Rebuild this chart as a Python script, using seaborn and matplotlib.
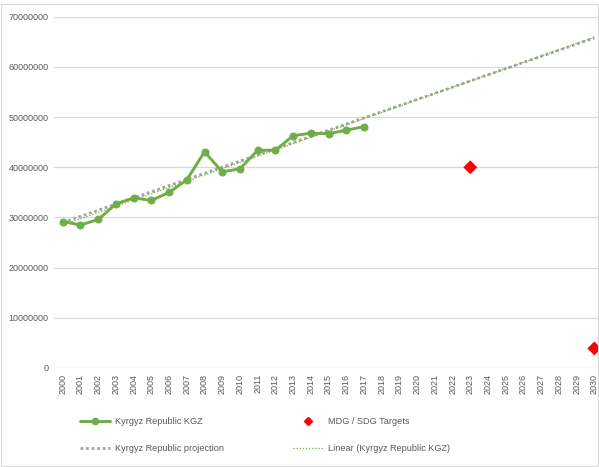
import matplotlib
matplotlib.use("Agg")
import matplotlib.pyplot as plt
import numpy as np
import pandas as pd
import seaborn as sns
from matplotlib.lines import Line2D
from matplotlib.patches import Rectangle

# ---- data ----
years = list(range(2000, 2018))
kgz_values = [29.2e6, 28.5e6, 29.6e6, 32.7e6, 33.9e6, 33.4e6, 35.0e6, 37.5e6, 43.1e6,
              39.1e6, 39.7e6, 43.4e6, 43.4e6, 46.3e6, 46.8e6, 46.7e6, 47.4e6, 48.1e6]
target_years = [2023, 2030]
target_values = [40.0e6, 3.9e6]
projection_years = [2000, 2030]
projection_values = [29.0e6, 65.8e6]
tick_years = list(range(2000, 2031))

GREEN = "#70AD47"
GREY_TXT = "#595959"

sns.set_theme(style="white")
plt.rcParams["font.family"] = ["Liberation Sans", "DejaVu Sans"]

kgz = pd.DataFrame({"year": years, "value": kgz_values})
targets = pd.DataFrame({"year": target_years, "value": target_values})
proj = pd.DataFrame({"year": projection_years, "value": projection_values})

fig = plt.figure(figsize=(5.99, 4.67), dpi=100)
ax = fig.add_axes([0.090, 0.212, 0.917, 0.752])
ax.set_xlim(2000, 2030)

for v in range(10_000_000, 70_000_001, 10_000_000):
    ax.axhline(v, color="#D9D9D9", lw=0.9, zorder=0)
ax.axhline(0, color="#D9D9D9", lw=0.9, zorder=0)

sns.lineplot(data=proj, x="year", y="value", ax=ax, color="#A0A89A", lw=2.0,
             linestyle=(0, (1, 1)), zorder=2)
# Excel-style linear trendline, forecast forward to the axis end
sns.regplot(data=kgz, x="year", y="value", ax=ax, scatter=False, ci=None, truncate=False,
            line_kws={"color": GREEN, "lw": 0.9, "linestyle": (0, (1, 1.5)), "zorder": 3})
sns.lineplot(data=kgz, x="year", y="value", ax=ax, color=GREEN, lw=2.1,
             marker="o", markersize=5, markeredgecolor=GREEN, zorder=4)
sns.scatterplot(data=targets, x="year", y="value", ax=ax, color="#FF0000",
                marker="D", s=50, edgecolor="none", zorder=5)

ax.set_xlim(1999.5, 2030.5)
ax.set_ylim(0, 70_000_000)
ax.set_xticks(tick_years)
ax.set_xticklabels([str(y) for y in tick_years], rotation=90, fontsize=6.5, color=GREY_TXT)
ax.set_yticks(range(0, 70_000_001, 10_000_000))
ax.set_yticklabels([str(v) for v in range(0, 70_000_001, 10_000_000)],
                   fontsize=6.5, color=GREY_TXT)
ax.tick_params(axis="both", length=0, pad=4)
ax.set_xlabel("")
ax.set_ylabel("")
for s in ax.spines.values():
    s.set_visible(False)

handles = [
    Line2D([], [], color=GREEN, lw=2.1, marker="o", markersize=4.5),
    Line2D([], [], color="#A0A89A", lw=2.0, linestyle=(0, (1, 1))),
    Line2D([], [], color="#FF0000", lw=0, marker="D", markersize=4),
    Line2D([], [], color=GREEN, lw=0.9, linestyle=(0, (1, 1.5))),
]
labels = ["Kyrgyz Republic KGZ", "Kyrgyz Republic projection",
          "MDG / SDG Targets", "Linear (Kyrgyz Republic KGZ)"]
fig.legend(handles, labels, ncol=2, loc="upper left", bbox_to_anchor=(0.12, 0.125),
           frameon=False, fontsize=6.6, labelcolor=GREY_TXT, handlelength=3.3,
           handletextpad=0.5, columnspacing=7.5, labelspacing=2.0)

fig.patches.append(Rectangle((0.002, 0.002), 0.996, 0.99, transform=fig.transFigure,
                             fill=False, edgecolor="#D9D9D9", lw=0.8))

fig.savefig("out.png", dpi=100)
